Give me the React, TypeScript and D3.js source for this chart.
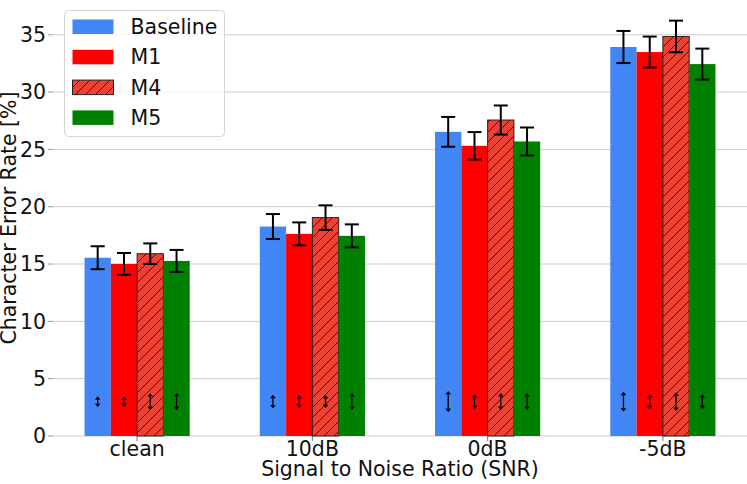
import { useEffect, useRef } from 'react'
import * as d3 from 'd3'

const categories = ['clean', '10dB', '0dB', '-5dB']
const seriesNames = ['Baseline', 'M1', 'M4', 'M5']

// character error rate per condition
const baselineCER = [15.55, 18.27, 26.53, 33.93]
const m1CER = [15.01, 17.63, 25.31, 33.49]
const m4CER = [15.9, 19.05, 27.56, 34.85]
const m5CER = [15.27, 17.46, 25.69, 32.44]

// error bar half widths
const baselineErr = [1.0, 1.09, 1.3, 1.4]
const m1Err = [0.95, 1.0, 1.2, 1.35]
const m4Err = [0.9, 1.07, 1.27, 1.38]
const m5Err = [0.96, 1.0, 1.22, 1.35]

// small double arrows near the bottom (full span)
const baselineSpan = [0.95, 1.2, 1.85, 1.75]
const m1Span = [0.95, 1.15, 1.3, 1.3]
const m4Span = [1.5, 1.15, 1.5, 1.65]
const m5Span = [1.5, 1.5, 1.5, 1.3]
const arrowCenter = 3.0

const yTicks = [0, 5, 10, 15, 20, 25, 30, 35]

const colors = ['#4285f4', '#ff0000', '#ea4335', '#008000']
const hatched = [false, false, true, false]

const FONT = 'DejaVu Sans, sans-serif'

const App = () => {
  const svgRef = useRef<SVGSVGElement | null>(null)
  const W = 747
  const H = 484
  const margin = { top: 0, right: 0, bottom: 48, left: 53 }

  useEffect(() => {
    if (!svgRef.current) return
    const svg = d3.select(svgRef.current)
    svg.selectAll('*').remove()

    const values = [baselineCER, m1CER, m4CER, m5CER]
    const errors = [baselineErr, m1Err, m4Err, m5Err]
    const spans = [baselineSpan, m1Span, m4Span, m5Span]

    const barW = 0.15
    const x = d3.scaleLinear().domain([-0.48, 3.48]).range([margin.left, W - margin.right])
    const y = d3.scaleLinear().domain([0, 38.03]).range([H - margin.bottom, margin.top])

    const defs = svg.append('defs')
    const pat = defs
      .append('pattern')
      .attr('id', 'hatch')
      .attr('patternUnits', 'userSpaceOnUse')
      .attr('width', 10)
      .attr('height', 10)
    pat.append('rect').attr('width', 10).attr('height', 10).attr('fill', colors[2])
    pat
      .append('path')
      .attr('d', 'M-2,2 l4,-4 M0,10 l10,-10 M8,12 l4,-4')
      .attr('stroke', '#222')
      .attr('stroke-width', 1)

    // grid
    svg
      .append('g')
      .selectAll('line')
      .data(yTicks)
      .enter()
      .append('line')
      .attr('x1', margin.left)
      .attr('x2', W - margin.right)
      .attr('y1', d => y(d))
      .attr('y2', d => y(d))
      .attr('stroke', '#cccccc')
      .attr('stroke-width', 1)

    // y ticks
    const yAxis = svg.append('g')
    yTicks.forEach(t => {
      yAxis
        .append('line')
        .attr('x1', margin.left - 5)
        .attr('x2', margin.left)
        .attr('y1', y(t))
        .attr('y2', y(t))
        .attr('stroke', '#999')
      yAxis
        .append('text')
        .attr('x', margin.left - 7)
        .attr('y', y(t))
        .attr('dy', '0.36em')
        .attr('text-anchor', 'end')
        .attr('font-family', FONT)
        .attr('font-size', 20.5)
        .attr('fill', '#111')
        .text(t)
    })

    // x ticks
    const xAxis = svg.append('g')
    categories.forEach((c, i) => {
      xAxis
        .append('line')
        .attr('x1', x(i))
        .attr('x2', x(i))
        .attr('y1', y(0))
        .attr('y2', y(0) + 5)
        .attr('stroke', '#777')
      xAxis
        .append('text')
        .attr('x', x(i))
        .attr('y', y(0) + 20)
        .attr('text-anchor', 'middle')
        .attr('font-family', FONT)
        .attr('font-size', 20.5)
        .attr('fill', '#111')
        .text(c)
    })

    svg
      .append('text')
      .attr('x', (margin.left + W - margin.right) / 2)
      .attr('y', y(0) + 40)
      .attr('text-anchor', 'middle')
      .attr('font-family', FONT)
      .attr('font-size', 20.5)
      .attr('fill', '#111')
      .text('Signal to Noise Ratio (SNR)')

    svg
      .append('text')
      .attr('transform', `translate(16,${(y(0) + y(38.03)) / 2}) rotate(-90)`)
      .attr('text-anchor', 'middle')
      .attr('font-family', FONT)
      .attr('font-size', 20.5)
      .attr('fill', '#111')
      .text('Character Error Rate [%]')

    // bars
    seriesNames.forEach((_, s) => {
      const off = (s - 1.5) * barW
      const g = svg.append('g')
      g.selectAll('rect')
        .data(values[s])
        .enter()
        .append('rect')
        .attr('x', (_d, i) => x(i + off - barW / 2))
        .attr('width', x(barW) - x(0))
        .attr('y', d => y(d))
        .attr('height', d => y(0) - y(d))
        .attr('fill', hatched[s] ? 'url(#hatch)' : colors[s])
        .attr('stroke', hatched[s] ? '#222' : 'none')
        .attr('stroke-width', hatched[s] ? 1 : 0)
    })

    // error bars
    seriesNames.forEach((_, s) => {
      const off = (s - 1.5) * barW
      values[s].forEach((v, i) => {
        const cx = x(i + off)
        const lo = y(v - errors[s][i])
        const hi = y(v + errors[s][i])
        const g = svg.append('g').attr('stroke', '#000').attr('stroke-width', 2)
        g.append('line').attr('x1', cx).attr('x2', cx).attr('y1', lo).attr('y2', hi)
        g.append('line').attr('x1', cx - 7).attr('x2', cx + 7).attr('y1', lo).attr('y2', lo)
        g.append('line').attr('x1', cx - 7).attr('x2', cx + 7).attr('y1', hi).attr('y2', hi)
      })
    })

    // double arrows
    seriesNames.forEach((_, s) => {
      const off = (s - 1.5) * barW
      spans[s].forEach((sp, i) => {
        const cx = x(i + off)
        const top = y(arrowCenter + sp / 2)
        const bot = y(arrowCenter - sp / 2)
        const head = 3.6
        const g = svg.append('g')
        g.append('line')
          .attr('x1', cx)
          .attr('x2', cx)
          .attr('y1', top + head)
          .attr('y2', bot - head)
          .attr('stroke', '#000')
          .attr('stroke-width', 1.3)
        g.append('path')
          .attr('d', `M${cx},${top} L${cx - 2.8},${top + head} L${cx + 2.8},${top + head} Z`)
          .attr('fill', '#000')
        g.append('path')
          .attr('d', `M${cx},${bot} L${cx - 2.8},${bot - head} L${cx + 2.8},${bot - head} Z`)
          .attr('fill', '#000')
      })
    })

    // legend
    const lg = svg.append('g')
    lg.append('rect')
      .attr('x', 64.5)
      .attr('y', 10.5)
      .attr('width', 160)
      .attr('height', 126)
      .attr('rx', 4)
      .attr('fill', 'white')
      .attr('fill-opacity', 0.8)
      .attr('stroke', '#d5d5d5')
    seriesNames.forEach((name, s) => {
      const ry = 19.5 + s * 30.3
      lg.append('rect')
        .attr('x', 72.5)
        .attr('y', ry)
        .attr('width', 41)
        .attr('height', 14.5)
        .attr('fill', hatched[s] ? 'url(#hatch)' : colors[s])
        .attr('stroke', hatched[s] ? '#222' : 'none')
      lg.append('text')
        .attr('x', 130.5)
        .attr('y', ry + 14.5)
        .attr('font-family', FONT)
        .attr('font-size', 20.5)
        .attr('fill', '#111')
        .text(name)
    })
  }, [])

  return (
    <svg
      ref={svgRef}
      width={W}
      height={H}
      style={{ position: 'absolute', left: 0, top: 0, background: 'white' }}
    />
  )
}

export default App
